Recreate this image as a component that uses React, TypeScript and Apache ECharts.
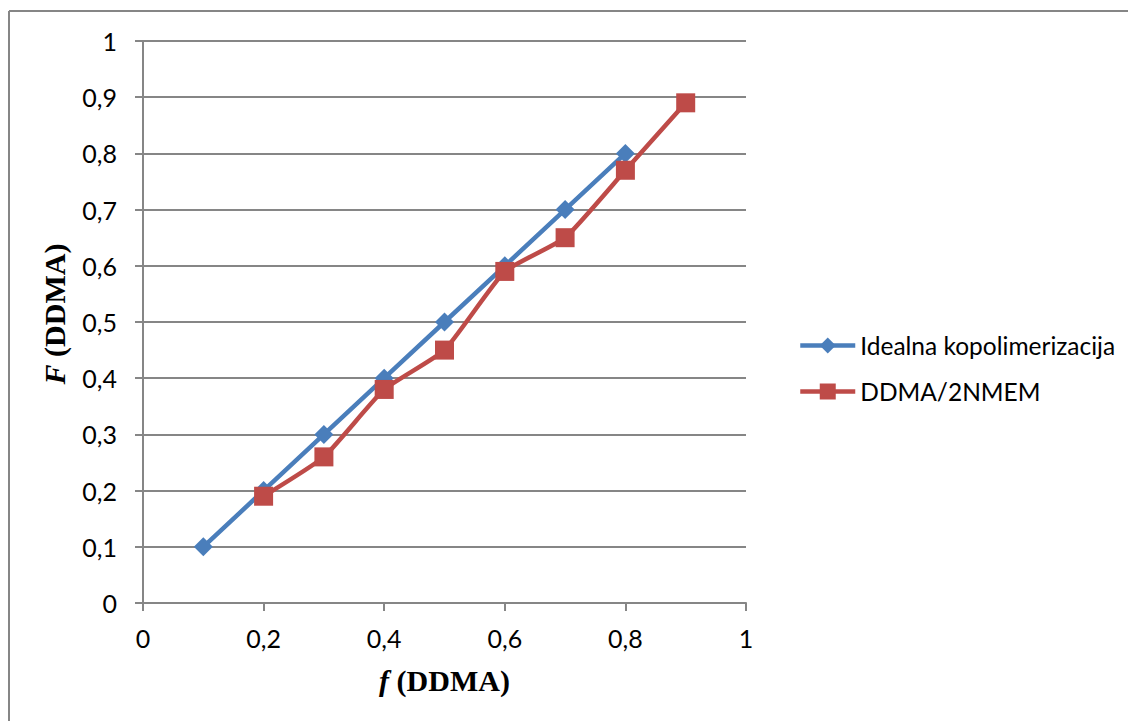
import React, { useEffect, useRef } from "react";
import * as echarts from "echarts";

const idealX = [0.1, 0.2, 0.3, 0.4, 0.5, 0.6, 0.7, 0.8];
const idealY = [0.1, 0.2, 0.3, 0.4, 0.5, 0.6, 0.7, 0.8];
const ddmaX = [0.2, 0.3, 0.4, 0.5, 0.6, 0.7, 0.8, 0.9];
const ddmaY = [0.19, 0.26, 0.38, 0.45, 0.59, 0.65, 0.77, 0.89];
const seriesNames = ["Idealna kopolimerizacija", "DDMA/2NMEM"];

const fmt = (v: number) => String(Math.round(v * 10) / 10).replace(".", ",");

export default function App() {
  const ref = useRef<HTMLDivElement>(null);
  useEffect(() => {
    if (!ref.current) return;
    const chart = echarts.init(ref.current, undefined, { renderer: "svg" });
    const axisColor = "#868686";
    const labelFont = "Lato, 'Open Sans', sans-serif";
    const serif = "'Liberation Serif', 'Times New Roman', serif";
    const nameStyle = {
      fontFamily: serif,
      fontWeight: "bold",
      fontSize: 30,
      color: "#000",
      rich: {
        i: {
          fontFamily: serif,
          fontWeight: "bold",
          fontStyle: "italic",
          fontSize: 30,
          color: "#000",
        },
      },
    };
    chart.setOption({
      animation: false,
      backgroundColor: "#ffffff",
      grid: { left: 143, right: 382, top: 41, bottom: 118 },
      graphic: [
        {
          type: "line",
          shape: { x1: 9, y1: 11, x2: 1128, y2: 11 },
          style: { stroke: axisColor, lineWidth: 2 },
        },
        {
          type: "line",
          shape: { x1: 9, y1: 11, x2: 9, y2: 721 },
          style: { stroke: axisColor, lineWidth: 2 },
        },
      ],
      legend: {
        orient: "vertical",
        left: 793,
        top: 328,
        itemWidth: 55,
        itemHeight: 20,
        itemGap: 21,
        data: seriesNames,
        lineStyle: { width: 4.5 },
        textStyle: { fontFamily: labelFont, fontSize: 24.5, lineHeight: 25, color: "#000" },
      },
      xAxis: {
        type: "value",
        min: 0,
        max: 1,
        interval: 0.2,
        name: "{i|f} (DDMA)",
        nameLocation: "middle",
        nameGap: 62,
        nameTextStyle: nameStyle,
        axisLine: { show: true, lineStyle: { color: axisColor, width: 2 } },
        axisTick: { show: true, length: 8, lineStyle: { color: axisColor, width: 2 } },
        splitLine: { show: false },
        axisLabel: {
          margin: 22,
          fontFamily: labelFont,
          fontSize: 25,
          color: "#000",
          formatter: fmt,
        },
      },
      yAxis: {
        type: "value",
        min: 0,
        max: 1,
        interval: 0.1,
        name: "{i|F} (DDMA)",
        nameLocation: "middle",
        nameGap: 74,
        nameRotate: 90,
        nameTextStyle: { ...nameStyle, padding: [0, 0, 0, 16] },
        axisLine: { show: true, lineStyle: { color: axisColor, width: 2 } },
        axisTick: { show: true, length: 8, lineStyle: { color: axisColor, width: 2 } },
        splitLine: { show: true, lineStyle: { color: axisColor, width: 2 } },
        axisLabel: {
          margin: 26,
          fontFamily: labelFont,
          fontSize: 25,
          color: "#000",
          formatter: fmt,
        },
      },
      series: [
        {
          name: seriesNames[0],
          type: "line",
          data: idealX.map((x, i) => [x, idealY[i]]),
          symbol: "diamond",
          symbolSize: 19,
          lineStyle: { color: "#4A7EBB", width: 4.5 },
          itemStyle: { color: "#4A7EBB" },
          z: 2,
        },
        {
          name: seriesNames[1],
          type: "line",
          data: ddmaX.map((x, i) => [x, ddmaY[i]]),
          symbol: "rect",
          symbolSize: 19,
          smooth: 0.15,
          lineStyle: { color: "#BE4B48", width: 4.5 },
          itemStyle: { color: "#BE4B48" },
          z: 3,
        },
      ],
    });
    return () => chart.dispose();
  }, []);
  return (
    <div
      ref={ref}
      style={{ position: "fixed", left: 0, top: 0, width: 1128, height: 721, background: "#fff" }}
    />
  );
}
